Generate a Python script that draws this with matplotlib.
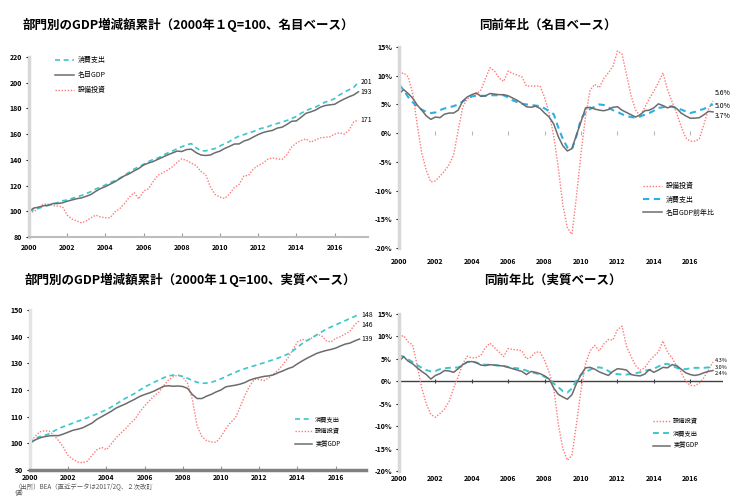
import matplotlib.pyplot as plt
import numpy as np

plt.rcParams['font.family'] = ['Noto Sans CJK JP', 'DejaVu Sans']

W, H = 732, 498

# quarterly series, 2000Q1 - 2017Q2
quarters = 2000 + np.arange(70) / 4
year_ticks = list(range(2000, 2017, 2))

# cumulative index, nominal (2000Q1 = 100)
nom_cons = [100.0, 101.2, 102.3, 103.5, 104.5, 105.8, 106.8, 108.2,
            108.8, 110.0, 111.2, 112.3, 113.8, 115.3, 117.4, 118.8,
            120.5, 122.3, 123.8, 125.7, 128.0, 130.4, 132.8, 134.6,
            136.6, 138.6, 140.3, 141.4, 143.5, 145.3, 146.8, 148.6,
            150.2, 151.8, 152.6, 149.4, 147.0, 147.0, 148.0, 148.8,
            150.8, 152.6, 154.3, 156.7, 158.5, 159.6, 161.0, 162.0,
            163.8, 164.8, 165.8, 167.2, 168.3, 169.4, 170.6, 172.1,
            173.8, 176.3, 178.3, 179.8, 181.0, 183.0, 184.9, 186.0,
            187.6, 190.4, 192.6, 194.5, 196.3, 200.6]
nom_gdp = [100.0, 102.5, 103.2, 104.3, 104.7, 106.0, 106.0, 106.6,
           107.8, 108.8, 109.8, 110.4, 111.7, 113.1, 115.6, 117.7,
           119.2, 121.1, 123.0, 125.3, 127.6, 129.2, 131.4, 133.3,
           136.0, 137.5, 138.7, 140.4, 142.1, 143.8, 145.3, 146.8,
           146.5, 148.0, 148.3, 145.6, 143.8, 143.4, 143.8, 145.6,
           146.8, 148.9, 150.5, 152.3, 152.4, 154.6, 155.8, 157.8,
           159.7, 161.2, 162.2, 162.9, 164.7, 165.4, 167.5, 170.0,
           170.3, 173.2, 176.2, 177.3, 178.7, 180.9, 182.2, 182.8,
           183.2, 185.4, 187.3, 189.0, 190.5, 193.0]
nom_inv = [100.0, 99.5, 102.5, 105.5, 105.5, 104.5, 104.0, 103.5,
           97.0, 94.0, 92.5, 91.0, 92.5, 95.0, 97.0, 95.5,
           95.0, 95.0, 99.5, 102.0, 106.0, 111.0, 114.5, 109.5,
           115.8, 117.5, 123.0, 128.0, 130.0, 132.0, 134.5, 138.0,
           140.8, 139.5, 137.5, 135.5, 131.0, 128.5, 119.0, 113.0,
           111.0, 110.0, 113.5, 118.5, 120.9, 127.5, 128.0, 133.0,
           135.5, 137.5, 140.5, 141.6, 140.8, 140.3, 144.0, 150.0,
           153.0, 155.0, 156.3, 153.7, 155.5, 157.1, 157.5, 157.9,
           160.0, 161.0, 160.0, 163.0, 169.5, 171.0]

# year-on-year, nominal (%)
nom_inv_yoy = [10.2, 10.5, 9.8, 7.0, 1.5, -3.5, -6.5, -8.5,
               -8.3, -7.5, -6.6, -5.5, -3.8, 0.5, 4.5, 6.0,
               6.3, 6.8, 7.5, 9.5, 11.4, 10.8, 9.6, 9.0,
               10.8, 10.4, 10.1, 9.8, 8.2, 8.2, 8.2, 8.2,
               6.2, 3.5, -0.5, -6.0, -12.5, -16.5, -17.6, -11.0,
               -3.5, 3.0, 7.5, 8.5, 7.9, 9.5, 10.5, 11.6,
               14.3, 13.8, 10.2, 6.5, 4.0, 3.0, 4.5, 6.0,
               7.3, 8.8, 10.5, 7.6, 5.5, 3.5, 1.2, -0.8,
               -1.4, -1.4, -1.0, 1.5, 4.2, 5.6]
nom_cons_yoy = [8.5, 7.5, 6.3, 5.4, 4.6, 4.1, 3.7, 3.5,
                3.6, 4.0, 4.3, 4.5, 4.7, 5.0, 5.5, 6.0,
                6.4, 6.5, 6.5, 6.5, 6.6, 6.6, 6.6, 6.6,
                6.2, 5.7, 5.4, 5.1, 5.0, 4.9, 4.8, 4.7,
                4.3, 3.8, 3.3, 1.0, -1.0, -2.5, -2.8, -0.5,
                2.5, 3.6, 4.2, 4.6, 5.0, 4.9, 4.5, 4.0,
                3.7, 3.3, 3.0, 2.8, 2.7, 2.9, 3.2, 3.5,
                3.9, 4.4, 4.5, 4.7, 4.6, 4.4, 4.1, 3.8,
                3.5, 3.7, 4.0, 4.2, 4.7, 5.0]
nom_gdp_yoy = [6.8, 7.6, 6.9, 6.1, 4.9, 4.0, 3.0, 2.4,
               2.8, 2.7, 3.3, 3.5, 3.5, 4.0, 5.6, 6.3,
               6.7, 7.0, 6.4, 6.5, 6.9, 6.8, 6.7, 6.7,
               6.5, 6.1, 5.7, 5.2, 4.6, 4.5, 4.7, 4.3,
               3.5, 2.8, 1.6, -0.6, -2.2, -3.1, -2.7, -0.3,
               2.0, 4.4, 4.5, 4.2, 4.0, 3.9, 4.1, 4.5,
               4.6, 4.0, 3.6, 3.2, 2.8, 3.2, 3.9, 4.0,
               4.4, 5.1, 4.8, 4.4, 4.7, 4.3, 3.5, 3.0,
               2.6, 2.6, 2.7, 3.2, 3.8, 3.7]

# cumulative index, real (2000Q1 = 100)
real_cons = [100.0, 101.8, 102.5, 102.9, 103.6, 104.6, 105.5, 106.3,
             106.9, 107.6, 108.3, 108.9, 109.6, 110.3, 111.0, 111.8,
             112.6, 113.6, 114.7, 115.8, 116.9, 117.8, 118.8, 120.0,
             121.1, 122.0, 122.9, 123.8, 124.6, 125.3, 125.6, 125.5,
             125.1, 124.4, 123.6, 122.9, 122.5, 122.6, 122.9, 123.5,
             124.2, 125.0, 125.9, 126.6, 127.4, 128.0, 128.6, 129.1,
             129.7, 130.2, 130.8, 131.4, 132.0, 132.7, 133.5, 134.6,
             136.0, 137.4, 138.5, 139.5, 140.6, 141.7, 142.8, 143.6,
             144.4, 145.2, 146.0, 146.8, 147.6, 148.5]
real_inv = [100.0, 102.5, 104.3, 104.7, 104.6, 103.0, 101.0, 98.5,
            95.4, 94.0, 93.0, 92.7, 93.3, 95.5, 97.6, 98.5,
            97.6, 99.8, 102.0, 103.8, 105.4, 107.5, 109.1, 111.8,
            114.0, 116.0, 117.8, 119.2, 121.6, 123.8, 125.0, 125.6,
            124.9, 122.5, 116.5, 106.5, 102.5, 101.0, 100.5, 100.4,
            102.5, 105.5, 107.8, 109.5, 113.5, 118.0, 121.5, 124.0,
            124.0, 123.5, 124.5, 126.0, 127.5, 129.5, 132.0, 135.0,
            138.0, 139.0, 138.5, 139.5, 140.8, 140.5, 138.5, 138.0,
            139.3, 140.0, 141.0, 142.0, 144.5, 146.0]
real_gdp = [100.0, 101.2, 102.0, 102.5, 102.8, 102.9, 102.9, 103.5,
            104.2, 104.9, 105.3, 105.8, 106.7, 107.6, 109.0, 110.0,
            111.0, 112.0, 113.2, 114.0, 114.8, 115.7, 116.6, 117.6,
            118.3, 118.9, 119.6, 120.5, 121.4, 121.6, 121.4, 121.5,
            121.3, 120.6, 118.3, 116.8, 116.8, 117.7, 118.4, 119.3,
            120.0, 121.2, 121.5, 121.8, 122.2, 122.8, 123.7, 124.3,
            124.7, 125.1, 125.3, 125.7, 126.5, 127.2, 128.0, 128.6,
            129.8, 130.9, 131.9, 132.8, 133.7, 134.3, 134.8, 135.2,
            135.7, 136.5, 137.2, 137.6, 138.4, 139.1]

# year-on-year, real (%)
real_inv_yoy = [9.8, 10.2, 8.8, 8.1, 3.5, -1.5, -5.0, -7.4,
                -8.0, -7.2, -6.2, -4.5, -1.5, 1.0, 3.9, 5.6,
                5.2, 5.3, 5.8, 7.5, 8.5, 7.5, 6.5, 5.5,
                7.3, 7.1, 7.0, 6.8, 5.0, 5.4, 6.5, 6.5,
                4.6, 2.0, -1.5, -9.5, -15.0, -17.6, -16.5, -9.5,
                -2.0, 4.0, 6.8, 8.0, 6.8, 8.3, 9.3, 9.2,
                11.5, 12.3, 7.8, 5.5, 3.5, 2.5, 3.0, 4.5,
                5.6, 6.5, 9.0, 6.5, 5.2, 3.5, 2.0, 0.0,
                -0.9, -1.0, -0.4, 0.8, 2.5, 4.3]
real_cons_yoy = [5.8, 5.5, 4.9, 4.3, 3.6, 3.0, 2.5, 2.2,
                 2.3, 2.7, 2.9, 3.0, 3.0, 3.1, 3.6, 4.3,
                 4.5, 4.1, 3.8, 3.7, 3.7, 3.6, 3.5, 3.4,
                 3.2, 3.0, 2.9, 2.7, 2.4, 2.0, 1.8, 1.5,
                 1.0, 0.5, -0.5, -1.3, -2.2, -2.5, -1.6, 0.2,
                 1.5, 2.0, 2.6, 3.0, 3.1, 2.9, 2.3, 1.7,
                 1.6, 1.5, 1.5, 1.6, 1.8, 2.0, 2.4, 2.5,
                 2.8, 3.3, 3.8, 3.9, 3.5, 3.0, 2.8, 2.7,
                 2.9, 3.0, 3.0, 3.0, 3.1, 3.0]
real_gdp_yoy = [4.4, 5.5, 4.5, 3.9, 3.0, 2.2, 1.5, 0.5,
                1.3, 1.7, 2.4, 2.3, 2.0, 2.8, 3.7, 4.3,
                4.4, 4.2, 3.6, 3.5, 3.7, 3.6, 3.5, 3.4,
                3.1, 2.8, 2.5, 2.2, 1.5, 2.2, 2.0, 1.7,
                1.2, 0.5, -1.5, -2.9, -3.5, -4.0, -3.0, -0.5,
                1.5, 3.0, 3.1, 2.7, 2.1, 1.7, 1.3, 2.2,
                2.8, 2.7, 2.5, 1.5, 1.3, 1.2, 1.6, 2.6,
                2.0, 2.5, 3.1, 3.0, 3.7, 3.5, 2.7, 1.9,
                1.5, 1.3, 1.5, 1.9, 2.2, 2.4]

pct_ticks = list(range(-20, 16, 5))

CYAN = '#3cc6cc'
BLUE = '#2ab0e8'
RED = '#ff7878'
GRAY = '#6c6c6c'

fig = plt.figure(figsize=(W / 100, H / 100), dpi=100)


def panel(left, top, right, bottom):
    return fig.add_axes([left / W, 1 - bottom / H, (right - left) / W, (bottom - top) / H])


def draw_lines(ax, cons, gdp, inv, cons_color, cons_lw):
    l_inv, = ax.plot(quarters, inv, color=RED, lw=1.0, ls=(0, (1, 1.2)))
    l_cons, = ax.plot(quarters, cons, color=cons_color, lw=cons_lw, ls=(0, (3, 2.2)))
    l_gdp, = ax.plot(quarters, gdp, color=GRAY, lw=1.1)
    return l_cons, l_gdp, l_inv


def end_label(ax, val, text, dy=0, dx=1.5, size=5):
    ax.annotate(text, xy=(quarters[-1], val), xytext=(dx, dy), textcoords='offset points',
                fontsize=size, va='center', ha='left', annotation_clip=False)


def base_style(ax, x_right):
    ax.set_xlim(2000, x_right)
    for s in ('top', 'right'):
        ax.spines[s].set_visible(False)
    ax.spines['left'].set_color('#d8d8d8')
    ax.spines['left'].set_linewidth(2.5)
    ax.set_xticks(year_ticks, labels=[str(y) for y in year_ticks])
    ax.tick_params(axis='y', length=2, width=0.8, pad=3, labelsize=5)
    for lab in ax.get_yticklabels() + ax.get_xticklabels():
        lab.set_fontweight('bold')


def pct_axis(ax, zero_color, zero_lw, label_pad):
    ax.set_ylim(-20, 15)
    ax.set_yticks(pct_ticks, labels=[f'{v}%' for v in pct_ticks])
    for lab in ax.get_yticklabels():
        lab.set_fontweight('bold')
    ax.spines['bottom'].set_visible(False)
    ax.tick_params(axis='x', length=0, pad=label_pad, labelsize=5)
    # 0% line with small year ticks on it
    if zero_lw:
        ax.axhline(0, color=zero_color, lw=zero_lw, zorder=1)
    ax.plot(year_ticks, [0] * len(year_ticks), ls='none', marker='|', ms=2.5,
            mew=0.8, color=zero_color, zorder=1)


# nominal, cumulative
ax1 = panel(29, 57, 368, 237)
h = draw_lines(ax1, nom_cons, nom_gdp, nom_inv, CYAN, 1.2)
ax1.set_ylim(80, 220)
ax1.set_yticks(range(80, 221, 20))
base_style(ax1, 2017.75)
ax1.spines['bottom'].set_color('#bdbdbd')
ax1.spines['bottom'].set_linewidth(1.5)
ax1.tick_params(axis='x', direction='in', length=3, color='#999999', pad=5, labelsize=5)
ax1.legend(h, ['消費支出', '名目GDP', '設備投資'], loc='upper left',
           bbox_to_anchor=(0.068, 1.02), frameon=False, fontsize=5,
           handlelength=2.8, handletextpad=0.5, labelspacing=1.0, borderaxespad=0)
end_label(ax1, nom_cons[-1], f'{nom_cons[-1]:.0f}')
end_label(ax1, nom_gdp[-1], f'{nom_gdp[-1]:.0f}')
end_label(ax1, nom_inv[-1], f'{nom_inv[-1]:.0f}')

# nominal, year-on-year
ax2 = panel(399, 47, 723, 248)
h = draw_lines(ax2, nom_cons_yoy, nom_gdp_yoy, nom_inv_yoy, BLUE, 1.5)
base_style(ax2, 2017.8)
pct_axis(ax2, '#b8b8b8', 0, 7)
ax2.legend([h[2], h[0], h[1]], ['設備投資', '消費支出', '名目GDP前年比'], loc='upper left',
           bbox_to_anchor=(0.744, 0.34), frameon=False, fontsize=5,
           handlelength=2.8, handletextpad=0.5, labelspacing=0.75, borderaxespad=0)
end_label(ax2, nom_inv_yoy[-1], f'{nom_inv_yoy[-1]:.1f}%', dy=5.5)
end_label(ax2, nom_cons_yoy[-1], f'{nom_cons_yoy[-1]:.1f}%', dy=-1)
end_label(ax2, nom_gdp_yoy[-1], f'{nom_gdp_yoy[-1]:.1f}%', dy=-3)

# real, cumulative
ax3 = panel(30, 310, 366, 470)
h = draw_lines(ax3, real_cons, real_gdp, real_inv, CYAN, 1.2)
ax3.set_ylim(90, 150)
ax3.set_yticks(range(90, 151, 10))
base_style(ax3, 2000 + 336 / 19.1)
ax3.spines['left'].set_color('#e4e4e4')
ax3.spines['bottom'].set_color('#808080')
ax3.spines['bottom'].set_linewidth(2.5)
ax3.tick_params(axis='x', direction='in', length=3, color='#999999', pad=3, labelsize=5)
ax3.legend([h[0], h[2], h[1]], ['消費支出', '設備投資', '実質GDP'], loc='upper left',
           bbox_to_anchor=(0.78, 0.36), frameon=False, fontsize=4.5,
           handlelength=2.8, handletextpad=0.5, labelspacing=0.75, borderaxespad=0)
end_label(ax3, real_cons[-1], f'{real_cons[-1]:.0f}', dy=-0.5)
end_label(ax3, real_inv[-1], f'{real_inv[-1]:.0f}', dy=-3)
end_label(ax3, real_gdp[-1], f'{real_gdp[-1]:.0f}')

# real, year-on-year
ax4 = panel(399, 314, 723, 471)
h = draw_lines(ax4, real_cons_yoy, real_gdp_yoy, real_inv_yoy, CYAN, 1.4)
base_style(ax4, 2017.8)
pct_axis(ax4, '#404040', 1.0, 3)
ax4.legend([h[2], h[0], h[1]], ['設備投資', '消費支出', '実質GDP'], loc='upper left',
           bbox_to_anchor=(0.775, 0.36), frameon=False, fontsize=4.5,
           handlelength=2.8, handletextpad=0.5, labelspacing=0.7, borderaxespad=0)
end_label(ax4, real_inv_yoy[-1], f'{real_inv_yoy[-1]:.1f}%', dy=1, size=4)
end_label(ax4, real_cons_yoy[-1], f'{real_cons_yoy[-1]:.1f}%', dy=0, size=4)
end_label(ax4, real_gdp_yoy[-1], f'{real_gdp_yoy[-1]:.1f}%', dy=-2, size=4)

title_kw = dict(fontsize=9, fontweight='bold', ha='center', va='center')
fig.text(188 / W, 1 - 25 / H, '部門別のGDP増減額累計（2000年１Q=100、名目ベース）', **title_kw)
fig.text(548 / W, 1 - 25 / H, '同前年比（名目ベース）', **title_kw)
fig.text(190 / W, 1 - 280 / H, '部門別のGDP増減額累計（2000年１Q=100、実質ベース）', **title_kw)
fig.text(553 / W, 1 - 280 / H, '同前年比（実質ベース）', **title_kw)

fig.text(15 / W, 1 - 482 / H, '（出所）BEA（直近データは2017/2Q、２次改訂\n値）',
         fontsize=4.6, color='#555555', ha='left', va='top', linespacing=0.85)

fig.savefig('out.png', dpi=100)
